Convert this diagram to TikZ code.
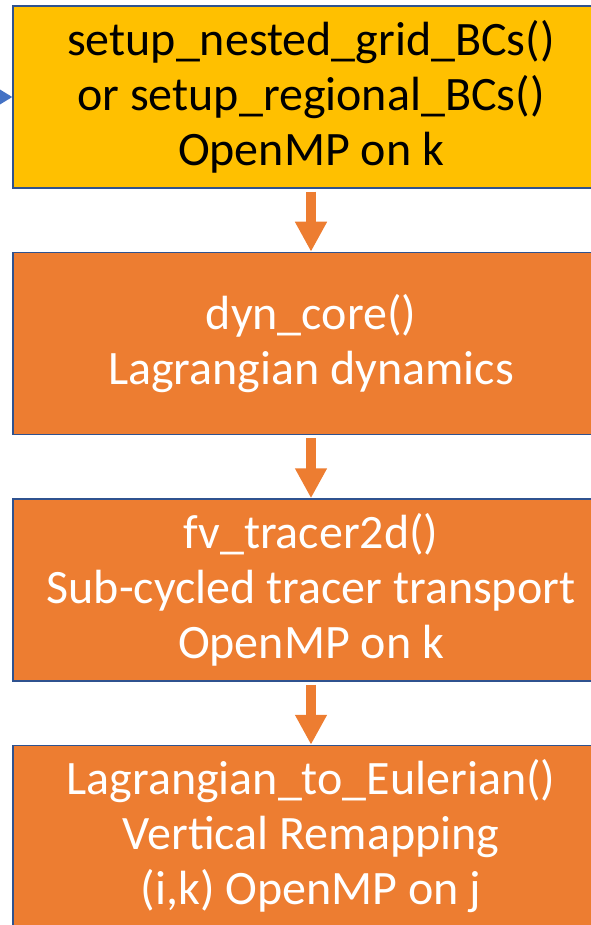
\documentclass[tikz,border=0pt]{standalone}
\usepackage{fontspec}
\setmainfont{Carlito}
\usepackage{xcolor}
\usetikzlibrary{positioning,arrows.meta}

\definecolor{boxyellow}{HTML}{FFC000}
\definecolor{boxorange}{HTML}{ED7D31}
\definecolor{boxedge}{HTML}{2F528F}
\definecolor{callblue}{HTML}{4472C4}

\begin{document}
\begin{tikzpicture}[
x=1pt, y=1pt,
node distance=63pt,
every node/.style={draw=boxedge, line width=1.5pt, minimum width=596pt, minimum height=182pt, align=center, inner sep=0pt, font=\fontsize{48}{55}\selectfont},
flow/.style={-{Triangle[width=30pt,length=30pt]}, line width=10pt, draw=boxorange, shorten <=3pt}
]
\useasboundingbox (0,0) rectangle (590,-925);

\node (setup) [fill=boxyellow, text=black] at (311,-97) {setup\_nested\_grid\_BCs()\\or setup\_regional\_BCs()\\OpenMP on k};

\node (dyncore) [fill=boxorange, text=white, below=of setup] {dyn\_core()\\Lagrangian dynamics};

\node (tracer) [fill=boxorange, text=white, below=of dyncore] {fv\_tracer2d()\\Sub-cycled tracer transport\\OpenMP on k};

\node (remap) [fill=boxorange, text=white, below=of tracer] {Lagrangian\_to\_Eulerian()\\Vertical Remapping\\(i,k) OpenMP on j};

\coordinate (caller) at (-40,-97);

\draw[-{Triangle[width=19pt,length=16pt]}, line width=2pt, callblue] (caller) -- (setup.west);
\draw[flow] (setup) -- (dyncore);
\draw[flow] (dyncore) -- (tracer);
\draw[flow] (tracer) -- (remap);

\end{tikzpicture}
\end{document}
